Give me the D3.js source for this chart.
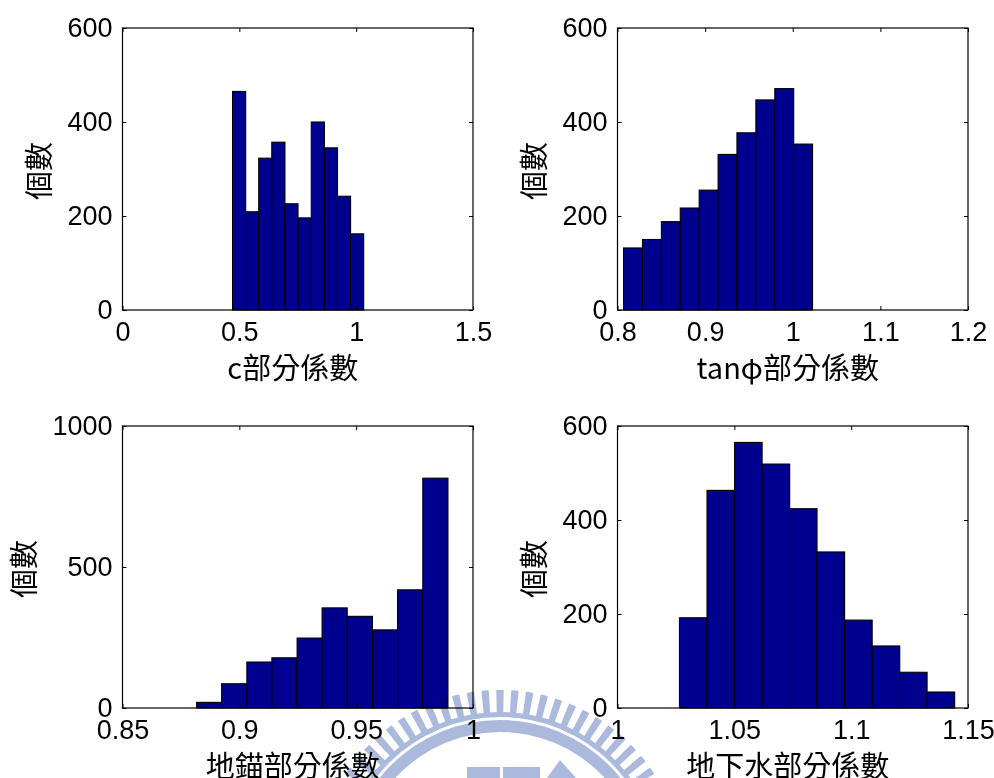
<!DOCTYPE html>
<html>
<head>
<meta charset="utf-8">
<script src="https://cdn.jsdelivr.net/npm/d3@7"></script>
<style>
  html, body { margin: 0; padding: 0; background: #fff; }
  svg { display: block; }
  .axis text { font-family: "Liberation Sans Narrow", "Arial Narrow", "Liberation Sans", Arial, sans-serif; font-size: 27px; fill: #000; }
  .axis line { stroke: #000; stroke-width: 1; }
  .title { font-family: "Noto Sans CJK TC", "Noto Sans CJK SC", sans-serif; font-size: 29px; fill: #000; }
</style>
</head>
<body>
<svg id="fig" width="994" height="778"></svg>
<script>
// ---- histogram counts (10 bins each) ----
const cCenters   = [0.499, 0.555, 0.611, 0.667, 0.723, 0.780, 0.836, 0.892, 0.948, 1.004];
const cCounts    = [465, 209, 323, 357, 226, 196, 400, 345, 242, 162];
const cBinWidth  = 0.0562;

const tanCenters  = [0.8177, 0.8393, 0.8609, 0.8824, 0.9040, 0.9256, 0.9471, 0.9687, 0.9903, 1.0118];
const tanCounts   = [132, 150, 188, 217, 255, 331, 377, 447, 471, 353];
const tanBinWidth = 0.02157;

const anchorCenters  = [0.8871, 0.8978, 0.9086, 0.9193, 0.9301, 0.9408, 0.9516, 0.9624, 0.9731, 0.9839];
const anchorCounts   = [20, 86, 163, 178, 248, 355, 325, 277, 419, 815];
const anchorBinWidth = 0.01075;

const waterCenters  = [1.0324, 1.0442, 1.0560, 1.0678, 1.0795, 1.0913, 1.1031, 1.1149, 1.1266, 1.1384];
const waterCounts   = [192, 463, 565, 519, 424, 332, 187, 132, 76, 34];
const waterBinWidth = 0.011775;

// ---- axis ranges and tick values ----
const cXTicks      = [0, 0.5, 1, 1.5];
const tanXTicks    = [0.8, 0.9, 1, 1.1, 1.2];
const anchorXTicks = [0.85, 0.9, 0.95, 1];
const waterXTicks  = [1, 1.05, 1.1, 1.15];
const countTicks600  = [0, 200, 400, 600];
const countTicks1000 = [0, 500, 1000];

// ---- labels ----
const yTitle = "個數";
const xTitles = ["c部分係數", "tanφ部分係數", "地錨部分係數", "地下水部分係數"];

const panels = [
  { centers: cCenters, counts: cCounts, width: cBinWidth, xDomain: [0, 1.5], xTicks: cXTicks,
    yDomain: [0, 600], yTicks: countTicks600, title: xTitles[0], box: [122.5, 28, 473, 310] },
  { centers: tanCenters, counts: tanCounts, width: tanBinWidth, xDomain: [0.8, 1.2], xTicks: tanXTicks,
    yDomain: [0, 600], yTicks: countTicks600, title: xTitles[1], box: [617.5, 28, 968, 310] },
  { centers: anchorCenters, counts: anchorCounts, width: anchorBinWidth, xDomain: [0.85, 1], xTicks: anchorXTicks,
    yDomain: [0, 1000], yTicks: countTicks1000, title: xTitles[2], box: [122.5, 426, 473, 708] },
  { centers: waterCenters, counts: waterCounts, width: waterBinWidth, xDomain: [1, 1.15], xTicks: waterXTicks,
    yDomain: [0, 600], yTicks: countTicks600, title: xTitles[3], box: [617.5, 426, 968, 708] }
];

const svg = d3.select("#fig");
svg.append("rect").attr("width", 994).attr("height", 778).attr("fill", "#fff");

const fmt = v => String(v);

panels.forEach(p => {
  const [x0, y0, x1, y1] = p.box;
  const x = d3.scaleLinear().domain(p.xDomain).range([x0, x1]);
  const y = d3.scaleLinear().domain(p.yDomain).range([y1, y0]);

  const g = svg.append("g");

  // bars
  g.append("g").selectAll("rect")
    .data(p.centers.map((c, i) => ({ c, n: p.counts[i] })))
    .join("rect")
    .attr("x", d => x(d.c - p.width / 2))
    .attr("width", d => x(d.c + p.width / 2) - x(d.c - p.width / 2))
    .attr("y", d => y(d.n))
    .attr("height", d => y(0) - y(d.n))
    .attr("fill", "#00008f")
    .attr("stroke", "#000")
    .attr("stroke-width", 1.1);

  // axes: ticks point inward on all four sides
  const bottom = g.append("g").attr("class", "axis").attr("transform", `translate(0,${y1})`)
    .call(d3.axisBottom(x).tickValues(p.xTicks).tickFormat(fmt).tickSize(-4).tickPadding(12));
  const left = g.append("g").attr("class", "axis").attr("transform", `translate(${x0},0)`)
    .call(d3.axisLeft(y).tickValues(p.yTicks).tickFormat(fmt).tickSize(-4).tickPadding(10));
  g.append("g").attr("class", "axis").attr("transform", `translate(0,${y0})`)
    .call(d3.axisTop(x).tickValues(p.xTicks).tickFormat("").tickSize(-4));
  g.append("g").attr("class", "axis").attr("transform", `translate(${x1},0)`)
    .call(d3.axisRight(y).tickValues(p.yTicks).tickFormat("").tickSize(-4));
  g.selectAll(".domain").remove();

  // frame
  g.append("rect")
    .attr("x", x0).attr("y", y0).attr("width", x1 - x0).attr("height", y1 - y0)
    .attr("fill", "none").attr("stroke", "#000").attr("stroke-width", 1.2);

  // y title, placed left of the widest tick label
  let minLeft = x0;
  left.selectAll("text").each(function () {
    const b = this.getBBox();
    minLeft = Math.min(minLeft, x0 + b.x);
  });
  const ty = (y0 + y1) / 2 + 2;
  const tx = minLeft - 30;
  svg.append("text").attr("class", "title")
    .attr("transform", `translate(${tx},${ty}) rotate(-90)`)
    .attr("text-anchor", "middle").attr("dominant-baseline", "central")
    .text(yTitle);

  // x title
  svg.append("text").attr("class", "title")
    .attr("x", (x0 + x1) / 2 - 5).attr("y", y1 + 56)
    .attr("text-anchor", "middle").attr("dominant-baseline", "central")
    .text(p.title);
});

// faint seal printed across the lower middle of the page
const seal = svg.append("g")
  .attr("transform", "translate(500,874)")
  .attr("fill", "#aab9dc")
  .style("mix-blend-mode", "multiply");
const toothStep = 4.65, toothHalf = 1.15;
d3.range(-40, 41).forEach(k => {
  const a = k * toothStep * Math.PI / 180, h = toothHalf * Math.PI / 180;
  seal.append("path").attr("d", d3.arc()({ innerRadius: 160, outerRadius: 184, startAngle: a - h, endAngle: a + h }));
});
seal.append("path").attr("d", d3.arc()({ innerRadius: 157, outerRadius: 162, startAngle: 0, endAngle: 2 * Math.PI }));
seal.append("path").attr("d", d3.arc()({ innerRadius: 142, outerRadius: 154, startAngle: 0, endAngle: 2 * Math.PI }));
seal.append("rect").attr("x", -33).attr("y", -107).attr("width", 33).attr("height", 40);
seal.append("rect").attr("x", 3).attr("y", -107).attr("width", 37).attr("height", 40);
seal.append("path").attr("d", "M47,-96 L60,-114 L76,-96 L76,-60 L47,-60 Z");
</script>
</body>
</html>
